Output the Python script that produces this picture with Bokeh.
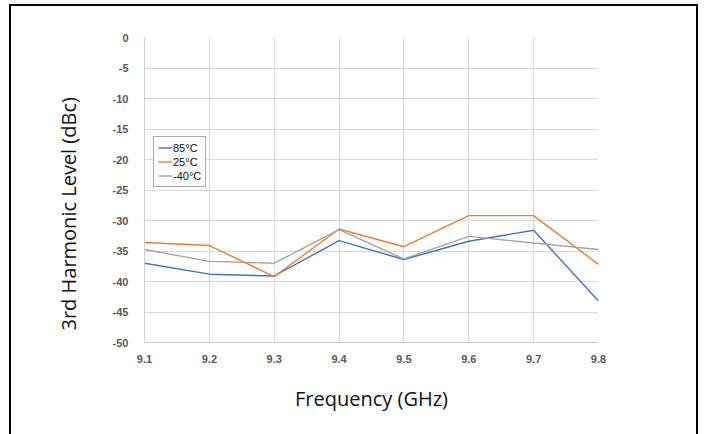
from bokeh.plotting import figure
from bokeh.models import (ColumnDataSource, FixedTicker, Legend, LegendItem,
                          Range1d, InlineStyleSheet, Title)
from bokeh.embed import file_html
from bokeh.resources import INLINE

freq = [9.1, 9.2, 9.3, 9.4, 9.5, 9.6, 9.7, 9.8]
t85 = [-37.0, -38.8, -39.1, -33.3, -36.4, -33.4, -31.6, -43.2]
t25 = [-33.6, -34.1, -39.2, -31.4, -34.3, -29.2, -29.2, -37.2]
tm40 = [-34.75, -36.7, -37.0, -31.5, -36.3, -32.6, -33.7, -34.75]
series_names = ["85°C", "25°C", "-40°C"]
series_colors = ["#4472C4", "#ED7D31", "#A5A5A5"]
x_ticks = [9.1, 9.2, 9.3, 9.4, 9.5, 9.6, 9.7, 9.8]
x_tick_labels = ["9.1", "9.2", "9.3", "9.4", "9.5", "9.6", "9.7", "9.8"]
y_ticks = [0, -5, -10, -15, -20, -25, -30, -35, -40, -45, -50]
y_tick_labels = ["0", "-5", "-10", "-15", "-20", "-25", "-30", "-35", "-40", "-45", "-50"]
x_title = "Frequency (GHz)"
y_title = "3rd Harmonic Level (dBc)"

frame_css = InlineStyleSheet(css="""
:host { position: relative; }
:host::after {
  content: "";
  position: absolute;
  left: 9px; top: 4px;
  width: 689px; height: 520px;
  border: 2px solid #000;
  pointer-events: none;
  box-sizing: border-box;
}
""")

p = figure(width=707, height=434, output_backend="svg", toolbar_location=None,
           x_range=Range1d(9.1, 9.8), y_range=Range1d(-50, 0),
           min_border_left=144, min_border_right=109,
           min_border_top=37, min_border_bottom=92,
           stylesheets=[frame_css])
p.background_fill_color = "white"
p.border_fill_color = "white"
p.outline_line_color = None

src = ColumnDataSource(dict(x=freq, a=t85, b=t25, c=tm40))
renderers = []
for col, color in zip(["a", "b", "c"], series_colors):
    r = p.line("x", col, source=src, line_color=color, line_width=1.4)
    renderers.append(r)

p.xaxis.ticker = FixedTicker(ticks=x_ticks)
p.yaxis.ticker = FixedTicker(ticks=y_ticks)
p.xaxis.major_label_overrides = {t: l for t, l in zip(x_ticks, x_tick_labels)}
p.yaxis.major_label_overrides = {t: l for t, l in zip(y_ticks, y_tick_labels)}
for ax in (p.xaxis, p.yaxis):
    ax.major_tick_line_color = None
    ax.minor_tick_line_color = None
    ax.axis_line_color = "#D0D0D0"
    ax.major_label_text_font = "Liberation Sans"
    ax.major_label_text_font_style = "bold"
    ax.major_label_text_font_size = "11px"
    ax.major_label_text_color = "#595959"
p.xaxis.major_label_standoff = 6
p.yaxis.major_label_standoff = 10

p.xaxis.axis_label = x_title
p.xaxis.axis_label_text_font = "Open Sans"
p.xaxis.axis_label_text_font_style = "normal"
p.xaxis.axis_label_text_font_size = "20px"
p.xaxis.axis_label_text_color = "#111111"
p.xaxis.axis_label_standoff = 19

ytitle = Title(text=y_title, align="left", offset=12,
               text_font="Open Sans", text_font_style="normal",
               text_font_size="20px", text_color="#111111", standoff=55)
p.add_layout(ytitle, "left")

p.xgrid.grid_line_color = "#D9D9D9"
p.ygrid.grid_line_color = "#D9D9D9"

legend = Legend(items=[LegendItem(label=n, renderers=[r]) for n, r in zip(series_names, renderers)],
                location=(9, 155))
legend.border_line_color = "#595959"
legend.border_line_width = 1
legend.background_fill_alpha = 1
legend.label_text_font = "Liberation Sans"
legend.label_text_font_size = "11px"
legend.label_text_color = "#111111"
legend.glyph_width = 14
legend.glyph_height = 13
legend.label_height = 13
legend.label_standoff = 1
legend.spacing = 1
legend.padding = 4
legend.margin = 0
p.add_layout(legend, "center")

open("out.html", "w").write(file_html(p, INLINE))
